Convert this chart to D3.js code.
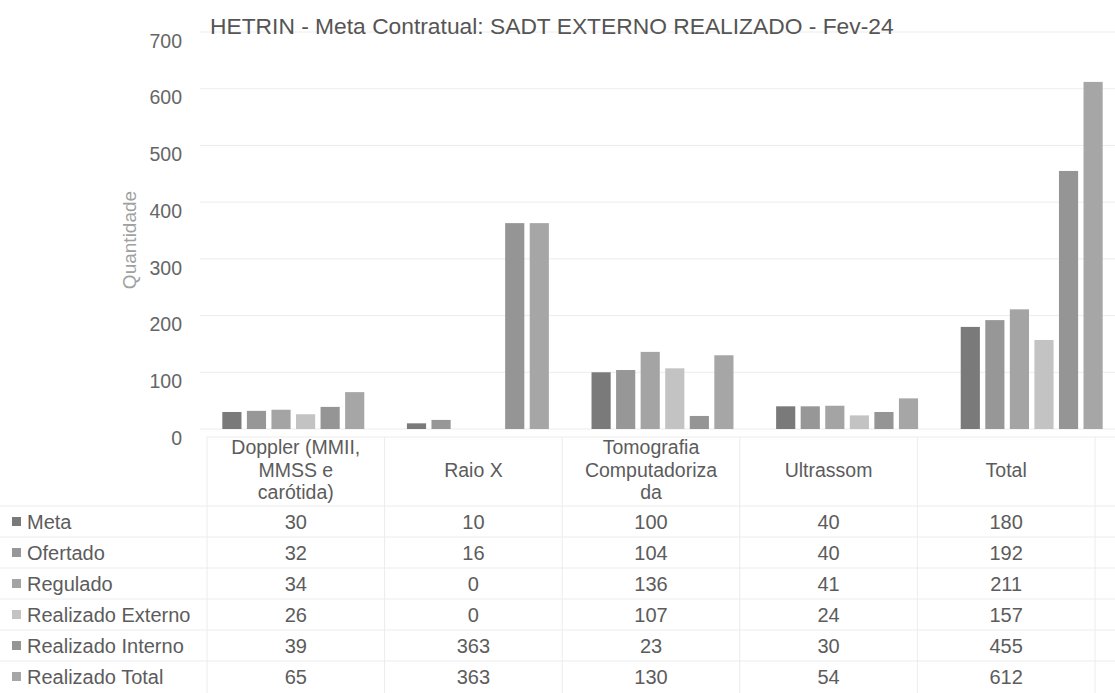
<!DOCTYPE html>
<html>
<head>
<meta charset="utf-8">
<script src="https://cdn.jsdelivr.net/npm/d3@7"></script>
<style>
  body { margin: 0; background: #fff; }
  text { font-family: "Liberation Sans", Arial, sans-serif; }
</style>
</head>
<body>
<svg id="chart" width="1115" height="693"></svg>
<script>
// categories, with the line breaks used on the axis
var categories = ["Doppler (MMII,\nMMSS e\ncarótida)", "Raio X", "Tomografia\nComputadoriza\nda", "Ultrassom", "Total"];
var seriesNames = ["Meta", "Ofertado", "Regulado", "Realizado Externo", "Realizado Interno", "Realizado Total"];
var meta       = [30, 10, 100, 40, 180];
var ofertado   = [32, 16, 104, 40, 192];
var regulado   = [34, 0, 136, 41, 211];
var realExt    = [26, 0, 107, 24, 157];
var realInt    = [39, 363, 23, 30, 455];
var realTotal  = [65, 363, 130, 54, 612];
var yTicks = [0, 100, 200, 300, 400, 500, 600, 700];

var series = [meta, ofertado, regulado, realExt, realInt, realTotal];
var colors = ["#7a7a7a", "#979797", "#a4a4a4", "#c3c3c3", "#959595", "#a6a6a6"];

var svg = d3.select('#chart');

var x0 = d3.scaleBand().domain(categories).range([201, 1124]).paddingInner(0.231).paddingOuter(0.1155);
var x1 = d3.scaleBand().domain(seriesNames).range([0, x0.bandwidth()]).paddingInner(0.22);
var y = d3.scaleLinear().domain([0, 700]).range([429, 32]);
// the data table below is a bit narrower than the plot
var tx = d3.scaleBand().domain(categories).range([207, 1095]);
var rowY = d3.scaleBand().domain(seriesNames).range([506, 692]);
var color = d3.scaleOrdinal().domain(seriesNames).range(colors);

// gridlines
svg.append('g').selectAll('line').data(yTicks).enter().append('line')
    .attr('x1', 200).attr('x2', 1115)
    .attr('y1', function(d) { return y(d); }).attr('y2', function(d) { return y(d); })
    .style('stroke', '#ececec').style('stroke-width', 1);

// y axis labels
var yAxis = d3.axisLeft(y).tickValues(yTicks).tickSize(0).tickPadding(0);
var ya = svg.append('g').attr('transform', 'translate(182,9)').call(yAxis);
ya.select('.domain').remove();
ya.selectAll('text').style('font-size', '19.5px').style('fill', '#666')
    .style('font-family', '"Liberation Sans", Arial, sans-serif');

// axis title
svg.append('text').attr('transform', 'translate(136,240) rotate(-90)')
    .attr('text-anchor', 'middle').style('font-size', '19px').style('fill', '#a0a0a0')
    .text('Quantidade');

// title
svg.append('text').attr('x', 210).attr('y', 34)
    .style('font-size', '22.8px').style('fill', '#555')
    .text('HETRIN - Meta Contratual: SADT EXTERNO REALIZADO - Fev-24');

// bars
var groups = svg.append('g').selectAll('g').data(categories).enter().append('g')
    .attr('transform', function(d) { return 'translate(' + x0(d) + ',0)'; });

groups.selectAll('rect').data(function(d, i) {
        return seriesNames.map(function(s, j) { return {name: s, value: series[j][i]}; });
    }).enter().append('rect')
    .attr('x', function(d) { return x1(d.name); })
    .attr('width', x1.bandwidth())
    .attr('y', function(d) { return y(d.value); })
    .attr('height', function(d) { return y(0) - y(d.value); })
    .style('fill', function(d) { return color(d.name); });

// table lines
var table = svg.append('g');
var lineYs = [437].concat(seriesNames.map(function(s) { return rowY(s); }));
table.selectAll('line.h').data(lineYs).enter().append('line')
    .attr('class', 'h')
    .attr('x1', function(d, i) { return i == 0 ? tx.range()[0] : 0; }).attr('x2', 1115)
    .attr('y1', function(d) { return d; }).attr('y2', function(d) { return d; })
    .style('stroke', '#ececec').style('stroke-width', 1);
table.selectAll('line.v').data(categories.map(function(c) { return tx(c); }).concat([tx.range()[1]]))
    .enter().append('line')
    .attr('class', 'v')
    .attr('x1', function(d) { return d; }).attr('x2', function(d) { return d; })
    .attr('y1', 437).attr('y2', 693)
    .style('stroke', '#ececec').style('stroke-width', 1);

// category labels
table.selectAll('text.cat').data(categories).enter().append('text')
    .attr('class', 'cat')
    .attr('text-anchor', 'middle')
    .style('font-size', '19.5px').style('fill', '#5c5c5c')
    .each(function(d) {
        var lines = d.split('\n');
        var t = d3.select(this);
        var cx = tx(d) + tx.bandwidth() / 2;
        lines.forEach(function(l, k) {
            t.append('tspan').attr('x', cx)
                .attr('y', 470 + (k - (lines.length - 1) / 2) * 22.5)
                .attr('dy', '0.35em')
                .text(l);
        });
    });

// legend column
var rows = table.selectAll('g.row').data(seriesNames).enter().append('g')
    .attr('class', 'row')
    .attr('transform', function(d) { return 'translate(0,' + (rowY(d) + rowY.bandwidth() / 2) + ')'; });

rows.append('rect').attr('x', 12).attr('y', -4.5).attr('width', 9).attr('height', 9)
    .style('fill', function(d) { return color(d); });
rows.append('text').attr('x', 27).attr('dy', '0.35em')
    .style('font-size', '20px').style('fill', '#5c5c5c')
    .text(function(d) { return d; });

rows.each(function(s, j) {
    d3.select(this).selectAll('text.val').data(series[j]).enter().append('text')
        .attr('class', 'val')
        .attr('x', function(d, i) { return tx(categories[i]) + tx.bandwidth() / 2; })
        .attr('dy', '0.35em')
        .attr('text-anchor', 'middle')
        .style('font-size', '20px').style('fill', '#5c5c5c')
        .text(function(d) { return d; });
});
</script>
</body>
</html>
